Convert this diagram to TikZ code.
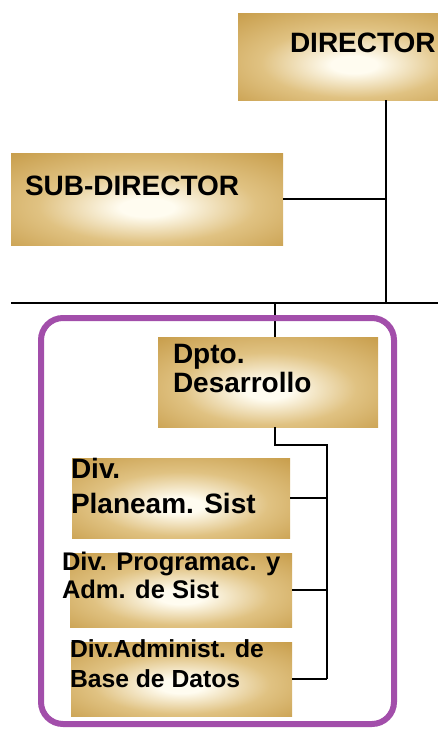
\documentclass[tikz,border=0pt]{standalone}
\usepackage{fontspec}
\setmainfont{Liberation Sans}

% soft gold glow used for every unit box
\definecolor{gcore}{RGB}{255,252,240}
\definecolor{gmid}{RGB}{224,194,130}
\definecolor{gedge}{RGB}{200,158,76}
\definecolor{gcorner}{RGB}{178,132,52}
\definecolor{framepurple}{RGB}{162,78,170}
\pgfdeclareradialshading{goldglow}{\pgfpoint{0bp}{-5bp}}{%
  color(0bp)=(gcore); color(5bp)=(gcore); color(20bp)=(gmid);
  color(37bp)=(gedge); color(48bp)=(gedge); color(72bp)=(gcorner)}

\tikzset{
  unitbox/.style={draw=none, shading=goldglow, inner sep=0pt, outer sep=0pt},
  boxtext/.style={anchor=base west, inner sep=0pt, outer sep=0pt, text=black},
  conn/.style={draw=black, line width=1.8pt},
  groupframe/.style={draw=framepurple, line width=6pt, rounded corners=22pt}
}

\begin{document}
\begin{tikzpicture}[x={(1pt,0pt)}, y={(0pt,-1pt)}]
  \useasboundingbox (0,0) rectangle (438,731);
  \clip (0,0) rectangle (438,731);

  % unit boxes
  \node[unitbox, minimum width=232pt, minimum height=87pt] (dir)  at (354,56.5) {};
  \node[unitbox, minimum width=272pt, minimum height=92pt] (sub)  at (147,199) {};
  \node[unitbox, minimum width=220pt, minimum height=90pt] (dpto) at (268,382) {};
  \node[unitbox, minimum width=218pt, minimum height=80pt] (div1) at (181,498) {};
  \node[unitbox, minimum width=222pt, minimum height=74pt] (div2) at (181,590) {};
  \node[unitbox, minimum width=221pt, minimum height=74pt] (div3) at (181.5,679) {};

  % connector junctions
  \coordinate (busL)    at (11,303);
  \coordinate (busR)    at (438,303);
  \coordinate (dirdrop) at (386,303);
  \coordinate (dptotap) at (275,303);
  \coordinate (trunk)   at (327,445);

  % upper hierarchy
  \draw[conn] (busL) -- (busR);
  \draw[conn] (dir.south -| dirdrop) -- (dirdrop);
  \draw[conn] (sub.east) -- (sub.east -| dirdrop);
  \draw[conn] (dptotap) -- (dptotap |- dpto.north);

  % department to divisions
  \draw[conn] (dpto.south -| dptotap) -- (dptotap |- trunk) -- (trunk)
              -- (trunk |- div3.east);
  \draw[conn] (div1.east) -- (div1.east -| trunk);
  \draw[conn] (div2.east) -- (div2.east -| trunk);
  \draw[conn] (div3.east) -- (div3.east -| trunk);

  % grouping frame around the department
  \draw[groupframe] (41,318) rectangle (394,724);

  % labels
  \begin{scope}[font=\bfseries\fontsize{28}{30}\selectfont]
    \node[boxtext] (dirT)   at (290,52)  {DIRECTOR};
    \node[boxtext] (subT)   at (25,195)  {SUB-DIRECTOR};
    \node[boxtext] (dptoA)  at (173,363) {Dpto.};
    \node[boxtext] (dptoB)  at (173,392) {Desarrollo};
    \node[boxtext] (div1A)  at (71,478)  {Div.};
    \node[boxtext] (div1B)  at (71,513)  {Planeam. Sist};
  \end{scope}
  \begin{scope}[font=\bfseries\fontsize{25.5}{28}\selectfont]
    \node[boxtext] (div2A)  at (62,570)  {Div. Programac. y};
    \node[boxtext] (div2B)  at (62,598)  {Adm. de Sist};
  \end{scope}
  \begin{scope}[font=\bfseries\fontsize{24.7}{28}\selectfont]
    \node[boxtext] (div3A)  at (70,657)  {Div.Administ. de};
    \node[boxtext] (div3B)  at (70,687)  {Base de Datos};
  \end{scope}
\end{tikzpicture}
\end{document}
